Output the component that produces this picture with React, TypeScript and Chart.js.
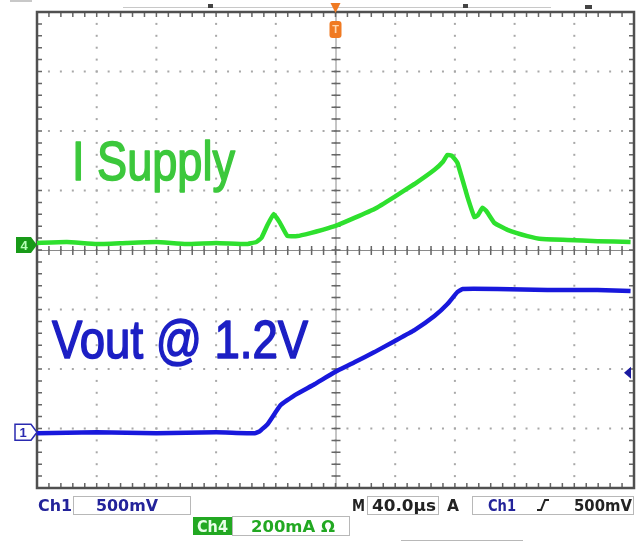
import React, { useEffect, useRef } from "react";
import { Chart, registerables } from "chart.js";
Chart.register(...registerables);

// Time axis: 40 µs / div, 10 divisions
const timeTicksUs = [-200, -160, -120, -80, -40, 0, 40, 80, 120, 160, 200];

// Ch4: supply current (mA), 200 mA/div
const supplyTimeUs = [-200, -180, -160, -140, -120, -100, -80, -60, -53, -49.6, -45.6, -41.5, -37.5, -32.2, -25.5, -16.8, -8.7, 0, 12.7, 26.1, 39.5, 52.9, 66.3, 72, 75, 78, 81.7, 88.4, 93.1, 95.5, 98.5, 101, 106.5, 115.2, 128.6, 138.7, 155.4, 175.5, 197.7];
const supplyMa = [7, 10, 3, 7, 10, 3, 7, 3, 10, 24, 67, 104, 77, 30, 30, 40, 51, 64, 91, 121, 162, 205, 253, 280, 303, 300, 276, 162, 94, 101, 125, 115, 74, 51, 30, 20, 17, 13, 10];

// Ch1: output voltage (mV), 500 mV/div
const voutTimeUs = [-200, -160, -120, -80, -54, -50.9, -45.6, -36.9, -27.5, -14.1, -0.7, 12.7, 26.1, 39.5, 52.9, 66.3, 75, 81.7, 85.1, 108.5, 142, 175.5, 197.7];
const voutMv = [-8, 0, -8, 0, -8, 8, 67, 227, 311, 404, 505, 589, 674, 766, 859, 977, 1078, 1179, 1204, 1204, 1196, 1196, 1187];

const ch1MvPerDiv = 500;
const ch1ZeroDiv = -3.064;
const ch4MaPerDiv = 200;
const ch4ZeroDiv = 0.084;
const triggerLevelMv = 500;

const GREEN = "#2ee02e";
const BLUE = "#1818dc";

function fitText(ctx: CanvasRenderingContext2D, text: string, x: number, base: number, width: number, font: string, color: string, stroke = 0) {
  ctx.save();
  ctx.font = font;
  const w = ctx.measureText(text).width;
  ctx.translate(x, base);
  ctx.scale(width / w, 1);
  ctx.fillStyle = color;
  ctx.textBaseline = "alphabetic";
  ctx.textAlign = "left";
  ctx.fillText(text, 0, 0);
  if (stroke > 0) {
    ctx.strokeStyle = color;
    ctx.lineWidth = stroke;
    ctx.lineJoin = "round";
    ctx.strokeText(text, 0, 0);
  }
  ctx.restore();
}

const scopePlugin = {
  id: "scope",
  beforeDatasetsDraw(chart: any) {
    const ctx: CanvasRenderingContext2D = chart.ctx;
    const { left, right, top, bottom } = chart.chartArea;
    const xs = chart.scales.x;
    const W = right - left;
    const H = bottom - top;
    const dy = H / 8;
    ctx.save();
    // faint remains of the upper status line
    ctx.fillStyle = "#c8c8c8";
    ctx.fillRect(123, 7, 428, 1);
    ctx.fillRect(10, 0, 22, 2);
    ctx.fillStyle = "#444";
    ctx.fillRect(208, 4, 5, 4);
    ctx.fillRect(463, 4, 5, 4);
    ctx.fillRect(585, 5, 7, 4);
    // dotted grid
    ctx.fillStyle = "#a8a8a8";
    for (const t of timeTicksUs) {
      const px = xs.getPixelForValue(t);
      for (let k = 0; k <= 40; k++) {
        const py = top + (k * H) / 40;
        ctx.fillRect(px - 1, py - 1, 2, 2);
      }
    }
    for (let j = 1; j < 8; j++) {
      const py = top + j * dy;
      for (let k = 0; k <= 50; k++) {
        const px = left + (k * W) / 50;
        ctx.fillRect(px - 1, py - 1, 2, 2);
      }
    }
    // center cross with ticks
    const cx = xs.getPixelForValue(0);
    const cy = top + 4 * dy;
    ctx.strokeStyle = "#8a8a8a";
    ctx.lineWidth = 1;
    ctx.beginPath();
    ctx.moveTo(cx + 0.5, top);
    ctx.lineTo(cx + 0.5, bottom);
    ctx.moveTo(left, Math.round(cy) + 0.5);
    ctx.lineTo(right, Math.round(cy) + 0.5);
    ctx.stroke();
    ctx.strokeStyle = "#666";
    ctx.lineWidth = 1.5;
    ctx.beginPath();
    for (let k = 0; k <= 40; k++) {
      const py = top + (k * H) / 40;
      ctx.moveTo(cx - 4, py);
      ctx.lineTo(cx + 5, py);
    }
    for (let k = 0; k <= 50; k++) {
      const px = left + (k * W) / 50;
      ctx.moveTo(px, cy - 4);
      ctx.lineTo(px, cy + 5);
    }
    // border ticks
    for (let k = 0; k <= 50; k++) {
      const px = left + (k * W) / 50;
      ctx.moveTo(px, top);
      ctx.lineTo(px, top + 5);
      ctx.moveTo(px, bottom);
      ctx.lineTo(px, bottom - 5);
    }
    for (let k = 0; k <= 40; k++) {
      const py = top + (k * H) / 40;
      ctx.moveTo(left, py);
      ctx.lineTo(left + 5, py);
      ctx.moveTo(right, py);
      ctx.lineTo(right - 5, py);
    }
    ctx.stroke();
    ctx.strokeStyle = "#505050";
    ctx.lineWidth = 2.5;
    ctx.strokeRect(left, top, W, H);
    ctx.restore();
  },
  afterDraw(chart: any) {
    const ctx: CanvasRenderingContext2D = chart.ctx;
    const { right } = chart.chartArea;
    const xs = chart.scales.x;
    const y1 = chart.scales.y1;
    const y4 = chart.scales.y4;
    ctx.save();
    // annotations
    fitText(ctx, "I Supply", 72, 180, 163, "56px 'Liberation Sans'", "#3cc83c", 1.6);
    fitText(ctx, "Vout @ 1.2V", 52, 358, 256, "53px 'Liberation Sans'", "#1c1fc4", 1.6);

    // Ch4 ground marker
    const g = y4.getPixelForValue(0);
    ctx.fillStyle = "#189a18";
    ctx.beginPath();
    ctx.moveTo(16, g - 8);
    ctx.lineTo(31, g - 8);
    ctx.lineTo(37, g);
    ctx.lineTo(31, g + 8);
    ctx.lineTo(16, g + 8);
    ctx.closePath();
    ctx.fill();
    ctx.fillStyle = "#b8ffb8";
    ctx.font = "bold 13px 'Liberation Sans'";
    ctx.textAlign = "center";
    ctx.textBaseline = "middle";
    ctx.fillText("4", 24, g + 1);

    // Ch1 ground marker
    const b = y1.getPixelForValue(0);
    ctx.fillStyle = "#fff";
    ctx.strokeStyle = "#2a2ab0";
    ctx.lineWidth = 1.5;
    ctx.beginPath();
    ctx.moveTo(15, b - 8);
    ctx.lineTo(31, b - 8);
    ctx.lineTo(37, b);
    ctx.lineTo(31, b + 8);
    ctx.lineTo(15, b + 8);
    ctx.closePath();
    ctx.fill();
    ctx.stroke();
    ctx.fillStyle = "#2a2ab0";
    ctx.fillText("1", 23, b + 1);

    // trigger level marker (right)
    const tl = y1.getPixelForValue(triggerLevelMv);
    ctx.fillStyle = "#1a1aa0";
    ctx.beginPath();
    ctx.moveTo(right - 10, tl);
    ctx.lineTo(right - 3, tl - 6);
    ctx.lineTo(right - 3, tl + 6);
    ctx.closePath();
    ctx.fill();

    // trigger position marker (top)
    const tx = xs.getPixelForValue(0);
    ctx.fillStyle = "#f07a22";
    ctx.beginPath();
    ctx.moveTo(tx - 5, 3);
    ctx.lineTo(tx + 5, 3);
    ctx.lineTo(tx, 13);
    ctx.closePath();
    ctx.fill();
    ctx.beginPath();
    (ctx as any).roundRect(tx - 6, 21, 12, 17, 3);
    ctx.fill();
    ctx.fillStyle = "#ffd8b0";
    ctx.font = "bold 11px 'Liberation Sans'";
    ctx.fillText("T", tx, 30);

    // status bar
    const sb = 511;
    const sf = "bold 15px 'DejaVu Sans'";
    ctx.lineWidth = 1;
    ctx.strokeStyle = "#b8b8b8";
    fitText(ctx, "Ch1", 38, sb, 34, sf, "#23239a");
    ctx.strokeRect(73.5, 496.5, 117, 18);
    fitText(ctx, "500mV", 96, sb, 62, sf, "#23239a");
    fitText(ctx, "M", 352, sb, 13, sf, "#222");
    ctx.strokeRect(367.5, 496.5, 71, 18);
    fitText(ctx, "40.0µs", 372, sb, 64, sf, "#222");
    fitText(ctx, "A", 447, sb, 12, sf, "#222");
    ctx.strokeRect(472.5, 496.5, 161, 18);
    fitText(ctx, "Ch1", 488, sb, 28, sf, "#23239a");
    ctx.strokeStyle = "#222";
    ctx.lineWidth = 2;
    ctx.beginPath();
    ctx.moveTo(537, 510);
    ctx.lineTo(541, 510);
    ctx.lineTo(545, 500);
    ctx.lineTo(549, 500);
    ctx.stroke();
    fitText(ctx, "500mV", 574, sb, 58, sf, "#222");

    ctx.fillStyle = "#22a822";
    ctx.fillRect(193, 517, 39, 18);
    fitText(ctx, "Ch4", 197, 532, 31, "bold 15px 'DejaVu Sans'", "#e8ffe8");
    ctx.strokeStyle = "#b8b8b8";
    ctx.lineWidth = 1;
    ctx.strokeRect(232.5, 516.5, 117, 19);
    fitText(ctx, "200mA Ω", 251, 532, 84, "bold 15px 'DejaVu Sans'", "#22a822");
    ctx.beginPath();
    ctx.moveTo(401, 540.5);
    ctx.lineTo(523, 540.5);
    ctx.stroke();
    ctx.restore();
  },
};

export default function App() {
  const ref = useRef<HTMLCanvasElement | null>(null);
  useEffect(() => {
    document.body.style.margin = "0";
    const canvas = ref.current!;
    const chart = new Chart(canvas, {
      type: "line",
      data: {
        datasets: [
          {
            label: "I Supply (Ch4)",
            data: supplyTimeUs.map((t, i) => ({ x: t, y: supplyMa[i] })),
            borderColor: GREEN,
            borderWidth: 4.5,
            pointRadius: 0,
            tension: 0.1,
            yAxisID: "y4",
          },
          {
            label: "Vout (Ch1)",
            data: voutTimeUs.map((t, i) => ({ x: t, y: voutMv[i] })),
            borderColor: BLUE,
            borderWidth: 4.5,
            pointRadius: 0,
            tension: 0.1,
            yAxisID: "y1",
          },
        ],
      },
      options: {
        responsive: false,
        animation: false,
        events: [],
        layout: { padding: { left: 37, top: 12, right: 9, bottom: 55 } },
        plugins: { legend: { display: false }, tooltip: { enabled: false } },
        scales: {
          x: { type: "linear", display: false, min: timeTicksUs[0], max: timeTicksUs[timeTicksUs.length - 1] },
          y1: { type: "linear", display: false, min: (-4 - ch1ZeroDiv) * ch1MvPerDiv, max: (4 - ch1ZeroDiv) * ch1MvPerDiv },
          y4: { type: "linear", display: false, min: (-4 - ch4ZeroDiv) * ch4MaPerDiv, max: (4 - ch4ZeroDiv) * ch4MaPerDiv },
        },
      },
      plugins: [scopePlugin],
    });
    return () => chart.destroy();
  }, []);
  return (
    <div style={{ position: "fixed", left: 0, top: 0, width: 643, height: 543, background: "#fff" }}>
      <canvas ref={ref} width={643} height={543} style={{ display: "block" }} />
    </div>
  );
}
